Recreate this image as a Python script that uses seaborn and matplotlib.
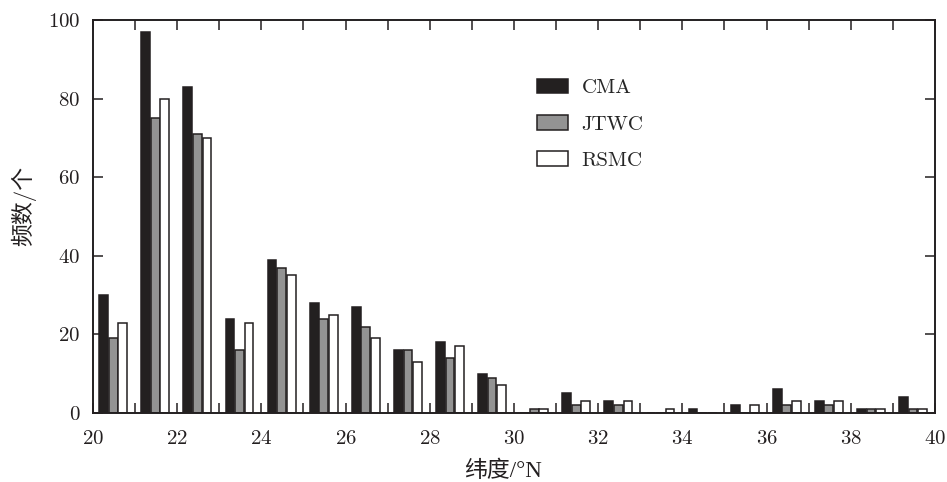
import numpy as np
import pandas as pd
import matplotlib
matplotlib.use("Agg")
import matplotlib.pyplot as plt
import seaborn as sns

# ------------------ DATA ------------------
lat_bins = list(range(20, 40))  # left edge of each 1-degree bin
cma = [30, 97, 83, 24, 39, 28, 27, 16, 18, 10, 0, 5, 3, 0, 1, 2, 6, 3, 1, 4]
jtwc = [19, 75, 71, 16, 37, 24, 22, 16, 14, 9, 1, 2, 2, 0, 0, 0, 2, 2, 1, 1]
rsmc = [23, 80, 70, 23, 35, 25, 19, 13, 17, 7, 1, 3, 3, 1, 0, 2, 3, 3, 1, 1]
sources = ["CMA", "JTWC", "RSMC"]
colors = ["#231f20", "#939393", "#ffffff"]

# ------------------ STYLE ------------------
sns.set_style("ticks")
plt.rcParams["font.family"] = ["cmr10", "Noto Sans CJK SC", "DejaVu Sans"]
plt.rcParams["axes.formatter.use_mathtext"] = True
plt.rcParams["axes.unicode_minus"] = False

df = pd.DataFrame({
    "lat": np.repeat(np.array(lat_bins) + 0.48, 3),
    "count": np.ravel(np.column_stack([cma, jtwc, rsmc])),
    "source": sources * len(lat_bins),
})

fig = plt.figure(figsize=(9.47, 4.82), dpi=100)
ax = fig.add_axes([0.0982, 0.1432, 0.8891, 0.8153])

sns.barplot(data=df, x="lat", y="count", hue="source", hue_order=sources,
            palette=colors, native_scale=True, width=0.68, gap=0.08,
            edgecolor="#231f20", linewidth=1.1, errorbar=None, ax=ax)

ax.set_xlim(20, 40)
ax.set_ylim(0, 100)
ax.set_xticks(range(20, 41, 2))
ax.set_xticks(range(20, 41), minor=True)
ax.set_yticks(range(0, 101, 20))
ax.tick_params(axis="both", which="both", direction="in", length=7, width=1.1,
               top=True, right=True, labelsize=15, colors="#231f20")
ax.tick_params(axis="x", pad=12)
ax.tick_params(axis="y", pad=9)
for s in ax.spines.values():
    s.set_linewidth(1.4)
    s.set_color("#231f20")
    s.set_visible(True)

# cmr10 maps the degree sign to another glyph, so this label uses a serif + CJK list
ax.set_xlabel("纬度/°N", fontsize=16.5, color="#231f20",
              family=["Liberation Serif", "Noto Sans CJK SC"])
ax.set_ylabel("频数/个", fontsize=16.5, color="#231f20")
ax.xaxis.set_label_coords(0.487, -0.12)
ax.yaxis.set_label_coords(-0.068, 0.527)

ax.legend(loc="upper left", bbox_to_anchor=(0.527, 0.851), frameon=False,
          fontsize=15, handlelength=1.5, handleheight=0.72, labelspacing=0.85,
          handletextpad=0.65, borderpad=0, borderaxespad=0)

fig.savefig("out.png", dpi=100)
